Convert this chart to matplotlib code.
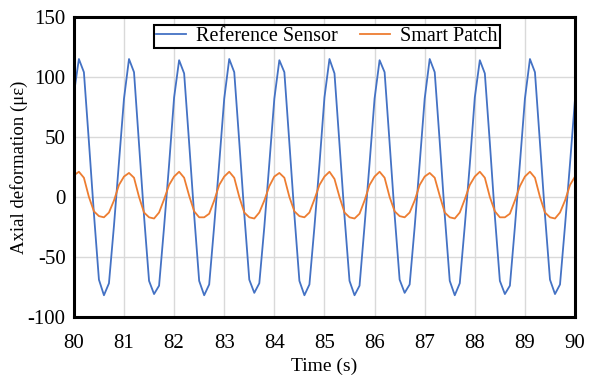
import numpy as np
import matplotlib
matplotlib.use('Agg')
import matplotlib.pyplot as plt

plt.rcParams['font.family'] = ['Liberation Serif', 'DejaVu Serif']
plt.rcParams['axes.unicode_minus'] = False

# sampling times (s), 0.1 s step
time = np.round(np.arange(80.0, 90.05, 0.1), 1)

# Reference sensor, one row per second
reference = [
    86, 115, 104, 46, -14, -69, -82, -72, -24, 29,
    82, 115, 104, 44, -16, -70, -81, -74, -25, 27,
    83, 114, 103, 45, -15, -70, -82, -73, -24, 28,
    82, 115, 104, 46, -14, -69, -80, -72, -25, 28,
    82, 114, 104, 45, -15, -70, -82, -73, -25, 27,
    83, 115, 103, 44, -16, -70, -82, -74, -24, 28,
    82, 114, 104, 45, -15, -69, -80, -73, -25, 28,
    82, 115, 104, 46, -15, -70, -82, -72, -24, 27,
    83, 114, 103, 45, -16, -70, -81, -74, -25, 28,
    82, 115, 104, 45, -15, -69, -81, -73, -24, 28,
    82,
]

# Smart patch
patch = [
    18, 21, 16, 0, -12, -16, -17, -13, -3, 10,
    17, 20, 16, 0, -13, -17, -18, -13, -2, 10,
    17, 21, 16, 1, -12, -17, -17, -14, -3, 10,
    17, 21, 16, 0, -13, -17, -18, -13, -3, 9,
    17, 20, 16, 0, -12, -16, -17, -13, -2, 10,
    17, 21, 15, 0, -13, -17, -18, -14, -3, 10,
    17, 21, 16, 0, -12, -16, -17, -13, -3, 10,
    17, 20, 16, 1, -13, -17, -18, -13, -2, 10,
    17, 21, 16, 0, -12, -17, -17, -14, -3, 9,
    17, 21, 16, 0, -13, -17, -18, -13, -3, 10,
    17,
]

xticks = list(range(80, 91))
yticks = [-100, -50, 0, 50, 100, 150]

fig = plt.figure(figsize=(5.91, 3.79), dpi=100)
ax = fig.add_axes([0.125, 0.164, 0.848, 0.791])

ax.plot(time, reference, color='#4472C4', lw=1.3, label='Reference Sensor')
ax.plot(time, patch, color='#ED7D31', lw=1.3, label='Smart Patch')

ax.set_xlim(80, 90)
ax.set_ylim(-100, 150)
ax.set_xticks(xticks)
ax.set_yticks(yticks)
ax.grid(True, color='#d9d9d9', lw=1)
ax.set_axisbelow(True)
ax.tick_params(length=0, labelsize=15)
ax.tick_params(axis='x', pad=12)
ax.tick_params(axis='y', pad=6)
for s in ax.spines.values():
    s.set_linewidth(2.2)
    s.set_color('black')

ax.set_xlabel('Time (s)', fontsize=14, labelpad=4)
ax.set_ylabel('Axial deformation (\u03bc\u03b5)', fontsize=13.5, labelpad=0)

leg = ax.legend(loc='upper center', bbox_to_anchor=(0.505, 0.975), ncol=2,
                fontsize=14.5, fancybox=False, edgecolor='black', framealpha=1,
                borderpad=0.1, handlelength=1.5, columnspacing=1.1,
                handletextpad=0.5, borderaxespad=0)
leg.get_frame().set_linewidth(1.5)

fig.savefig('out.png', dpi=100)
